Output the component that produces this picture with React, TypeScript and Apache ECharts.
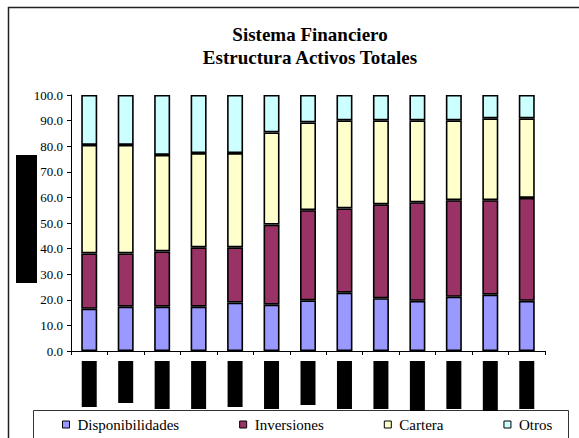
import React, { useEffect, useRef } from "react";
import * as echarts from "echarts";

const categories = ["1", "2", "3", "4", "5", "6", "7", "8", "9", "10", "11", "12", "13"];
const disponibilidades = [16.5, 17.3, 17.3, 17.3, 18.9, 18.1, 19.8, 22.8, 20.6, 19.6, 21.2, 22.0, 19.6];
const inversiones = [21.6, 20.8, 21.6, 23.2, 21.6, 31.3, 35.2, 32.9, 36.7, 38.5, 37.7, 36.9, 40.2];
const cartera = [42.4, 42.4, 37.7, 36.8, 36.8, 36.0, 34.3, 34.4, 32.8, 32.0, 31.2, 32.0, 31.1];
const otros = [19.5, 19.5, 23.4, 22.7, 22.7, 14.6, 10.7, 9.9, 9.9, 9.9, 9.9, 9.1, 9.1];
const seriesNames = ["Disponibilidades", "Inversiones", "Cartera", "Otros"];
const seriesColors = ["#9999FF", "#993366", "#FFFFCC", "#CCFFFF"];
// redacted (blacked-out) category label block heights
const labelBlockHeights = [46, 42, 48, 48, 46, 48, 44, 48, 48, 50, 48, 50, 48];

const FONT = "Liberation Serif";

export default function App() {
  const ref = useRef<HTMLDivElement>(null);
  useEffect(() => {
    if (!ref.current) return;
    const chart = echarts.init(ref.current, undefined, { renderer: "svg" });
    const data = [disponibilidades, inversiones, cartera, otros];
    chart.setOption({
      animation: false,
      backgroundColor: "#fff",
      textStyle: { fontFamily: FONT },
      title: {
        text: "Sistema Financiero\nEstructura Activos Totales",
        left: 310,
        top: 23,
        textAlign: "center",
        padding: 0,
        textStyle: {
          fontFamily: FONT,
          fontWeight: "bold",
          fontSize: 19,
          lineHeight: 23,
          color: "#000",
        },
      },
      grid: { left: 71, right: 34, top: 95, bottom: 87, containLabel: false },
      legend: {
        data: seriesNames,
        left: 62,
        top: 417,
        padding: 0,
        itemWidth: 7,
        itemHeight: 7,
        itemGap: 60,
        icon: "rect",
        itemStyle: { borderColor: "#000", borderWidth: 1 },
        textStyle: { fontFamily: FONT, fontSize: 15, color: "#000", padding: [0, 0, 0, 3] },
      },
      xAxis: {
        type: "category",
        data: categories,
        axisLine: { lineStyle: { color: "#000", width: 1 } },
        axisTick: { show: true, alignWithLabel: false, inside: false, length: 4, lineStyle: { color: "#000" } },
        axisLabel: { show: false },
        splitLine: { show: false },
      },
      yAxis: {
        type: "value",
        min: 0,
        max: 100,
        interval: 10,
        axisLine: { show: true, lineStyle: { color: "#000", width: 1 } },
        axisTick: { show: true, length: 4, lineStyle: { color: "#000" } },
        axisLabel: {
          fontFamily: FONT,
          fontSize: 13,
          color: "#000",
          margin: 8,
          formatter: (v: number) => v.toFixed(1),
        },
        splitLine: { show: false },
      },
      series: seriesNames.map((name, i) => ({
        name,
        type: "bar",
        stack: "total",
        barWidth: 16,
        data: data[i],
        itemStyle: { color: seriesColors[i], borderColor: "#000", borderWidth: 1.6 },
      })),
    });

    const blocks = categories.map((c, i) => {
      const x = chart.convertToPixel({ xAxisIndex: 0 }, i) as number;
      return {
        type: "rect",
        shape: { x: x - 7.5, y: 361, width: 15, height: labelBlockHeights[i] },
        style: { fill: "#000" },
        silent: true,
      };
    });
    chart.setOption({
      graphic: [
        {
          type: "rect",
          shape: { x: 8.5, y: 7.5, width: 620, height: 500 },
          style: { fill: "none", stroke: "#222", lineWidth: 1.5 },
          silent: true,
        },
        {
          type: "rect",
          shape: { x: 33.5, y: 410.5, width: 535, height: 60 },
          style: { fill: "none", stroke: "#333", lineWidth: 1 },
          silent: true,
        },
        {
          type: "rect",
          shape: { x: 16, y: 155, width: 21, height: 128 },
          style: { fill: "#000" },
          silent: true,
        },
        ...blocks,
      ],
    });
    return () => chart.dispose();
  }, []);
  return (
    <div
      ref={ref}
      style={{ position: "fixed", left: 0, top: 0, width: 579, height: 438 }}
    />
  );
}
